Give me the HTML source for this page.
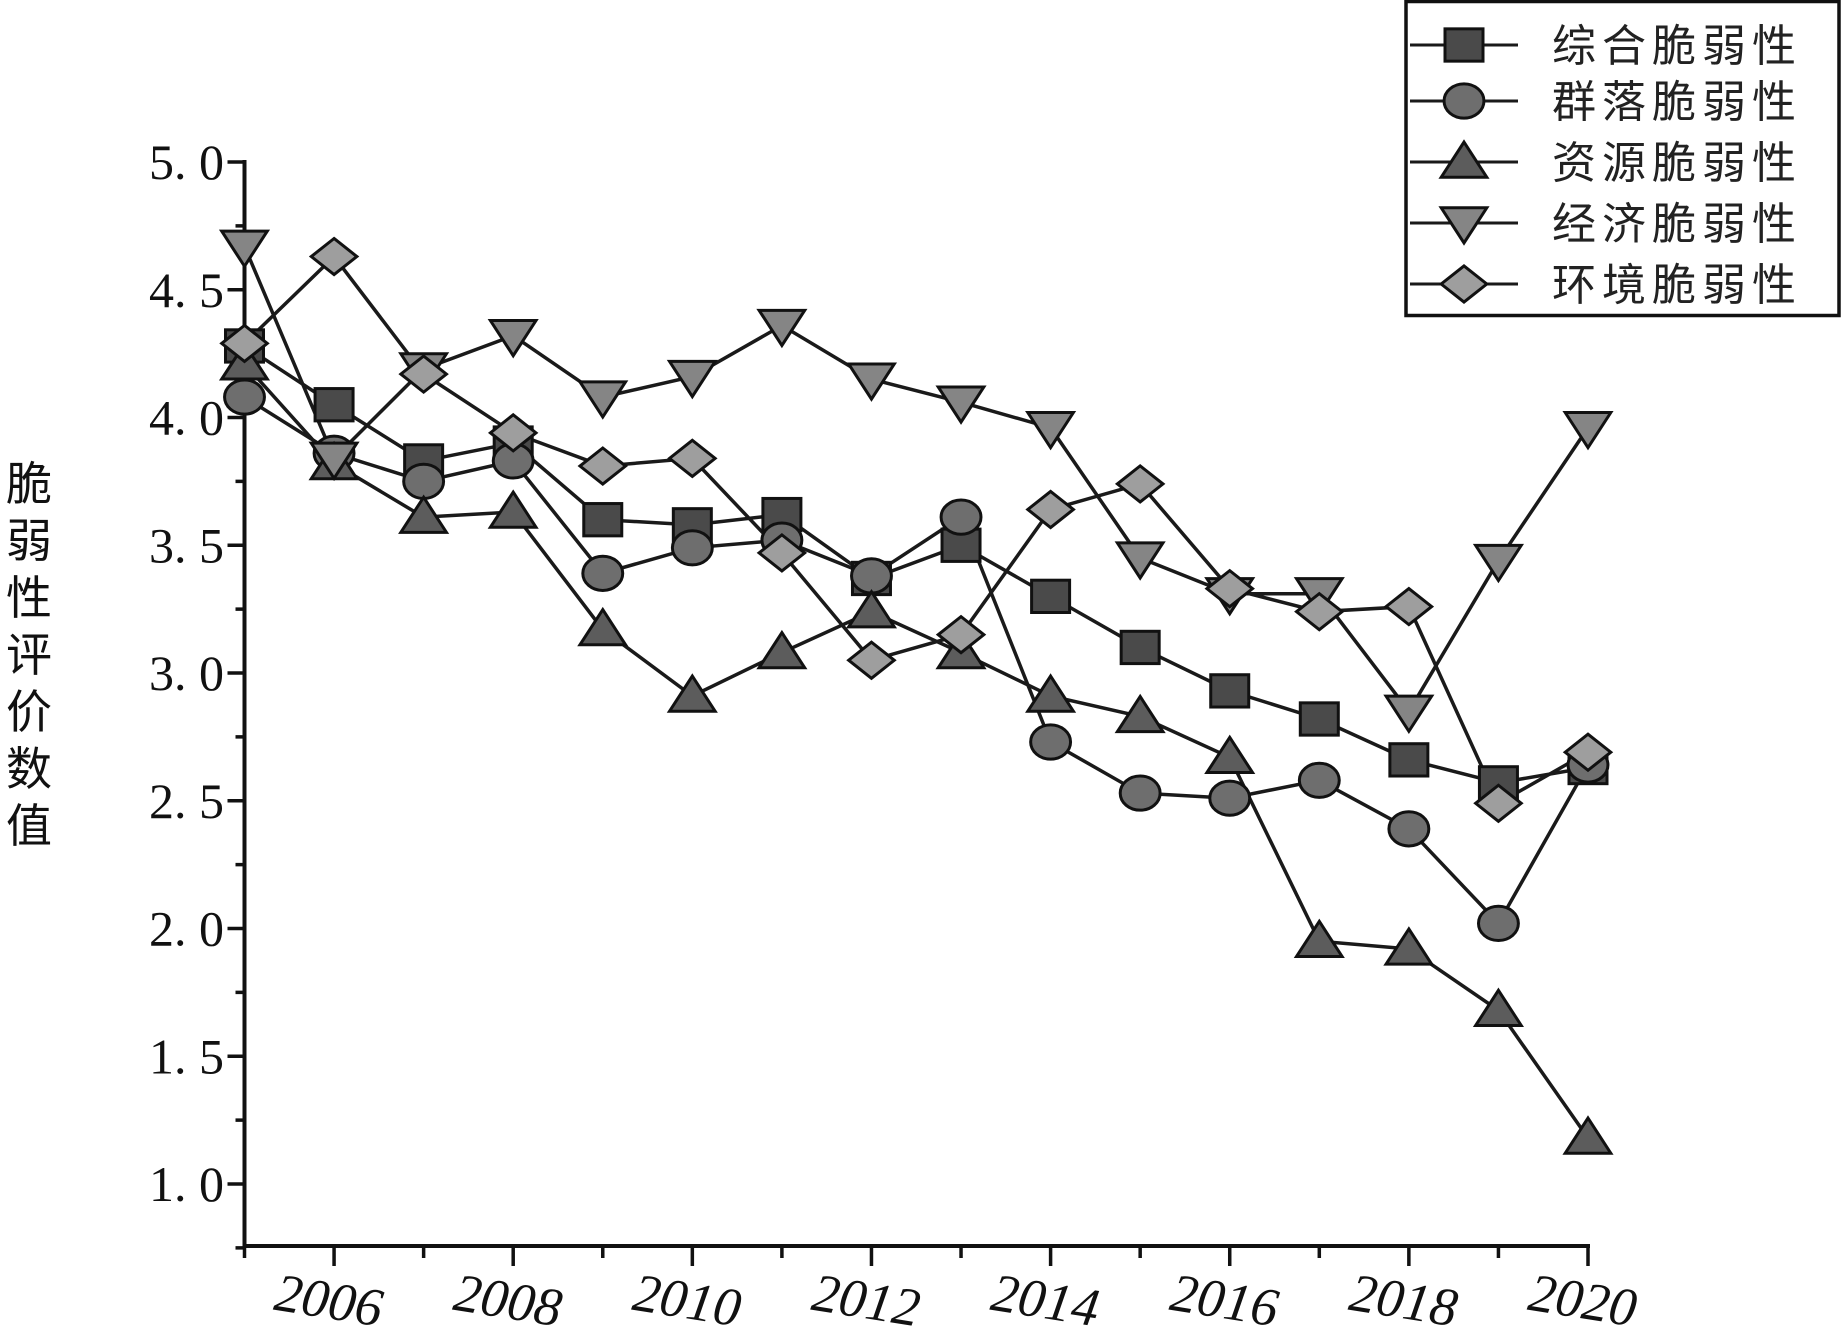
<!DOCTYPE html>
<html><head><meta charset="utf-8"><style>
html,body{margin:0;padding:0;background:#fff;}
svg{display:block;}
</style></head><body>
<svg id="chart" width="1843" height="1335" viewBox="0 0 1843 1335" xmlns="http://www.w3.org/2000/svg">
<g id="axes"></g>
<g id="series"></g>
<g id="legend"></g>
<text x="29" y="500" font-family="'Liberation Sans','Noto Sans CJK SC',sans-serif" font-size="46" fill="#111" text-anchor="middle">
<tspan x="29" dy="0">脆</tspan><tspan x="29" dy="57">弱</tspan><tspan x="29" dy="57">性</tspan><tspan x="29" dy="57">评</tspan><tspan x="29" dy="57">价</tspan><tspan x="29" dy="57">数</tspan><tspan x="29" dy="57">值</tspan></text>
</svg>
<script>
const years = [2005,2006,2007,2008,2009,2010,2011,2012,2013,2014,2015,2016,2017,2018,2019,2020];
const zonghe = [4.28,4.05,3.83,3.90,3.60,3.58,3.62,3.37,3.50,3.30,3.10,2.93,2.82,2.66,2.57,2.63];
const qunluo = [4.08,3.86,3.75,3.83,3.39,3.49,3.52,3.38,3.61,2.73,2.53,2.51,2.58,2.39,2.02,2.64];
const ziyuan = [4.21,3.82,3.61,3.63,3.17,2.91,3.08,3.24,3.08,2.91,2.83,2.67,1.95,1.92,1.68,1.18];
const jingji = [4.67,3.84,4.19,4.32,4.08,4.16,4.36,4.15,4.06,3.96,3.45,3.31,3.31,2.85,3.44,3.96];
const huanjing = [4.29,4.63,4.17,3.94,3.81,3.84,3.47,3.05,3.15,3.64,3.74,3.33,3.24,3.26,2.49,2.69];
const seriesNames = ["综合脆弱性","群落脆弱性","资源脆弱性","经济脆弱性","环境脆弱性"];
const yTicks = [1.0,1.5,2.0,2.5,3.0,3.5,4.0,4.5,5.0];
const yTickLabels = ["1. 0","1. 5","2. 0","2. 5","3. 0","3. 5","4. 0","4. 5","5. 0"];
const xTickLabels = ["2006","2008","2010","2012","2014","2016","2018","2020"];

const NS="http://www.w3.org/2000/svg";
const X0=244.5, X1=1588, Y5=162, Y1=1184, YB=1246;
const xS = y => X0 + (y-2005)*(X1-X0)/15;
const yS = v => Y1 - (v-1)*(Y1-Y5)/4;
function mk(tag, attrs, parent){const e=document.createElementNS(NS,tag);for(const k in attrs)e.setAttribute(k,attrs[k]);parent.appendChild(e);return e;}
const axes=document.getElementById('axes');
let e=mk('line',{x1:X0,y1:Y5-2,x2:X0,y2:YB+2,stroke:'#111','stroke-width':4},axes);


e=mk('line',{x1:X0-2,y1:YB,x2:X1+2,y2:YB,stroke:'#111','stroke-width':4},axes);


for(let v=1.0; v<=5.001; v+=0.25){
  const maj=Math.abs(v*2-Math.round(v*2))<1e-6;
  e=mk('line',{x1:X0-(maj?17:9),y1:yS(v),x2:X0,y2:yS(v),stroke:'#111','stroke-width':3.5},axes);
  
  
}
// extra minor below 1.0
e=mk('line',{x1:X0-9,y1:yS(0.75),x2:X0,y2:yS(0.75),stroke:'#111','stroke-width':3.5},axes);


yTicks.forEach((v,i)=>{
  const t=mk('text',{x:224,y:yS(v)+17,'text-anchor':'end','font-family':"'Liberation Serif',serif",'font-size':50,fill:'#111'},axes);
  t.textContent=yTickLabels[i];
  
  
});
years.forEach((y,i)=>{
  const maj=(y%2===0);
  e=mk('line',{x1:xS(y),y1:YB,x2:xS(y),y2:YB+(maj?20:12),stroke:'#111','stroke-width':3.5},axes);
  
  
});
xTickLabels.forEach(l=>{
  const x=xS(+l)-8, y=1318;
  const t=mk('text',{x:x,y:y,'text-anchor':'middle','font-family':"'Liberation Serif',serif",'font-style':'italic','font-size':54,fill:'#111',transform:`rotate(9 ${x} ${y})`},axes);
  t.textContent=l;
  
  
});
const fills=['#4a4a4a','#6e6e6e','#5c5c5c','#858585','#9e9e9e'];
const shapes=['square','circle','tri','down','diamond'];
function marker(g,shape,cx,cy,fill,s){
  let m;
  const a={fill:fill,stroke:'#111','stroke-width':3};
  if(shape==='square') m=mk('rect',Object.assign({x:cx-s,y:cy-s*0.85,width:2*s,height:1.7*s},a),g);
  else if(shape==='circle') m=mk('ellipse',Object.assign({cx:cx,cy:cy,rx:s*1.05,ry:s*0.9},a),g);
  else if(shape==='tri') m=mk('polygon',Object.assign({points:`${cx},${cy-s*1.05} ${cx+s*1.2},${cy+s*0.8} ${cx-s*1.2},${cy+s*0.8}`},a),g);
  else if(shape==='down') m=mk('polygon',Object.assign({points:`${cx-s*1.2},${cy-s*0.8} ${cx+s*1.2},${cy-s*0.8} ${cx},${cy+s*1.05}`},a),g);
  else m=mk('polygon',Object.assign({points:`${cx},${cy-s*0.95} ${cx+s*1.2},${cy} ${cx},${cy+s*0.95} ${cx-s*1.2},${cy}`},a),g);
  return m;
}
const all=[zonghe,qunluo,ziyuan,jingji,huanjing];
const sg=document.getElementById('series');
const keys=['zonghe','qunluo','ziyuan','jingji','huanjing'];
all.forEach((arr,si)=>{
  const g=mk('g',{},sg);
  
  
  const pts=arr.map((v,i)=>xS(years[i])+','+yS(v)).join(' ');
  const l=mk('polyline',{points:pts,fill:'none',stroke:'#1a1a1a','stroke-width':3.5},g);
  
  
});
all.forEach((arr,si)=>{
  const g=mk('g',{},sg);
  
  
  arr.forEach((v,i)=>{
    const m=marker(g,shapes[si],xS(years[i]),yS(v),fills[si],19);
    
    
  });
});
const lg=document.getElementById('legend');
e=mk('rect',{x:1406,y:1.5,width:433,height:314,fill:'#fff',stroke:'#111','stroke-width':3.5},lg);


const rowsY=[45,101,162,223,284];
seriesNames.forEach((n,i)=>{
  const g=mk('g',{},lg);
  
  
  mk('line',{x1:1410,y1:rowsY[i],x2:1518,y2:rowsY[i],stroke:'#1a1a1a','stroke-width':3},g);
  marker(g,shapes[i],1464,rowsY[i],fills[i],19);
  const t=mk('text',{x:1552,y:rowsY[i]+16,'font-family':"'Liberation Sans','Noto Sans CJK SC',sans-serif",'font-size':44,'letter-spacing':6,fill:'#222'},g);
  t.textContent=n;
});
</script>
</body></html>
